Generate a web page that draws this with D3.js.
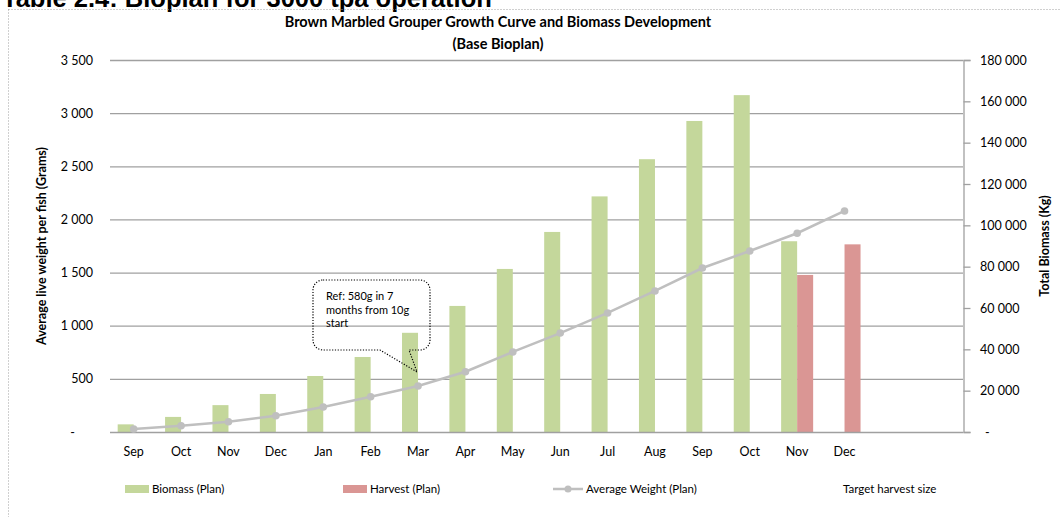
<!DOCTYPE html>
<html>
<head>
<meta charset="utf-8">
<script src="https://cdn.jsdelivr.net/npm/d3@7"></script>
<style>
  html, body { margin: 0; padding: 0; background: #fff; }
  svg { display: block; font-family: Lato, "Open Sans", sans-serif; }
</style>
</head>
<body>
<svg id="chart" width="1060" height="517"></svg>
<script>
// Month slots along the x axis (two trailing empty slots)
const months = ["Sep","Oct","Nov","Dec","Jan","Feb","Mar","Apr","May","Jun","Jul","Aug","Sep","Oct","Nov","Dec","",""];
// Standing biomass (kg), right axis
const biomass = [3700,7300,13000,18400,27100,36300,48000,61000,78900,96800,114000,132000,150500,163000,92300,0,null,null];
// Harvested biomass (kg), right axis
const harvest = [null,null,null,null,null,null,null,null,null,null,null,null,null,null,76000,90800,null,null];
// Average live weight per fish (g), left axis
const avgWeight = [28,59,97,153,235,332,433,567,753,931,1120,1327,1543,1703,1870,2080,null,null];

const leftTicks = [0,500,1000,1500,2000,2500,3000,3500];
const rightTicks = [0,20000,40000,60000,80000,100000,120000,140000,160000,180000];

const svg = d3.select("#chart");
const W = 1060, H = 517;
const plot = { left: 110, right: 963, top: 60, bottom: 432 };

const fmt = v => v === 0 ? "-" : d3.format(",")(v).replace(/,/g, " ");

// sheet heading, sitting above the chart frame
svg.append("text")
  .attr("x", 2).attr("y", 7)
  .attr("font-family", "'Liberation Sans', Arial, sans-serif")
  .attr("font-weight", "bold").attr("font-size", 25.5)
  .attr("fill", "#000")
  .text("Table 2.4: Bioplan for 3000 tpa operation");

// dotted chart frame
svg.append("rect")
  .attr("x", 8.5).attr("y", 9.5).attr("width", W).attr("height", H)
  .attr("fill", "none").attr("stroke", "#a0a0a0")
  .attr("stroke-width", 1).attr("stroke-dasharray", "1,2");

const idx = months.map((m, i) => i);
const x = d3.scaleBand().domain(idx).range([plot.left, plot.right]).padding(0);
const xSub = d3.scaleBand().domain(["biomass","harvest"]).range([0, x.bandwidth()])
  .paddingInner(0).paddingOuter(0.48);
const yL = d3.scaleLinear().domain([0, 3500]).range([plot.bottom, plot.top]);
const yR = d3.scaleLinear().domain([0, 180000]).range([plot.bottom, plot.top]);

// horizontal gridlines on the left-axis ticks
svg.append("g").selectAll("line").data(leftTicks.filter(t => t > 0)).join("line")
  .attr("x1", plot.left).attr("x2", plot.right)
  .attr("y1", d => yL(d) + 0.5).attr("y2", d => yL(d) + 0.5)
  .attr("stroke", "#a0a0a0").attr("stroke-width", 1.3);

// left tick labels
svg.append("g").selectAll("text").data(leftTicks).join("text")
  .attr("x", d => d === 0 ? 75 : 93)
  .attr("y", d => yL(d) + 4.5)
  .attr("text-anchor", "end")
  .attr("font-size", 12.5).attr("fill", "#000")
  .text(fmt);

// bars
const bars = svg.append("g");
bars.selectAll("rect.bio").data(idx.filter(i => biomass[i] != null && biomass[i] > 0)).join("rect")
  .attr("class", "bio")
  .attr("x", i => x(i) + xSub("biomass"))
  .attr("width", xSub.bandwidth())
  .attr("y", i => yR(biomass[i]))
  .attr("height", i => yR(0) - yR(biomass[i]))
  .attr("fill", "#c4d79b");
bars.selectAll("rect.har").data(idx.filter(i => harvest[i] != null)).join("rect")
  .attr("class", "har")
  .attr("x", i => x(i) + xSub("harvest"))
  .attr("width", xSub.bandwidth())
  .attr("y", i => yR(harvest[i]))
  .attr("height", i => yR(0) - yR(harvest[i]))
  .attr("fill", "#da9694");

// bottom axis line
svg.append("line")
  .attr("x1", plot.left).attr("x2", plot.right)
  .attr("y1", plot.bottom + 0.5).attr("y2", plot.bottom + 0.5)
  .attr("stroke", "#a0a0a0").attr("stroke-width", 1.3);

// right axis with outward ticks
const rightAxis = d3.axisRight(yR).tickValues(rightTicks).tickSize(7).tickFormat("");
const gR = svg.append("g").attr("transform", `translate(${plot.right + 0.5},0)`).call(rightAxis);
gR.select(".domain").attr("stroke", "#a0a0a0").attr("stroke-width", 1.3);
gR.selectAll(".tick line").attr("stroke", "#a0a0a0").attr("stroke-width", 1.3);
svg.append("g").selectAll("text").data(rightTicks).join("text")
  .attr("x", d => d === 0 ? 985 : 980)
  .attr("y", d => yR(d) + 4.5)
  .attr("text-anchor", "start")
  .attr("font-size", 12.5).attr("fill", "#000")
  .text(fmt);

// month labels
svg.append("g").selectAll("text").data(idx).join("text")
  .attr("x", i => x(i) + x.bandwidth() / 2)
  .attr("y", 456)
  .attr("text-anchor", "middle")
  .attr("font-size", 12.5).attr("fill", "#000")
  .text(i => months[i]);

// average weight line
const wIdx = idx.filter(i => avgWeight[i] != null);
const line = d3.line().x(i => x(i) + x.bandwidth() / 2).y(i => yL(avgWeight[i]));
svg.append("path").datum(wIdx)
  .attr("d", line).attr("fill", "none")
  .attr("stroke", "#bfbfbf").attr("stroke-width", 2.5);
svg.append("g").selectAll("circle").data(wIdx).join("circle")
  .attr("cx", i => x(i) + x.bandwidth() / 2)
  .attr("cy", i => yL(avgWeight[i]))
  .attr("r", 3.8).attr("fill", "#bfbfbf");

// callout
const callout = svg.append("g");
const cb = { x0: 313, y0: 280, x1: 430, y1: 350, r: 10 };
const tip = { x: x(6) + x.bandwidth() / 2 - 1, y: yL(avgWeight[6]) - 14 };
const p = d3.path();
p.moveTo(cb.x0 + cb.r, cb.y0);
p.lineTo(cb.x1 - cb.r, cb.y0);
p.arcTo(cb.x1, cb.y0, cb.x1, cb.y0 + cb.r, cb.r);
p.lineTo(cb.x1, cb.y1 - cb.r);
p.arcTo(cb.x1, cb.y1, cb.x1 - cb.r, cb.y1, cb.r);
p.lineTo(409, cb.y1);
p.lineTo(tip.x, tip.y);
p.lineTo(380, cb.y1);
p.lineTo(cb.x0 + cb.r, cb.y1);
p.arcTo(cb.x0, cb.y1, cb.x0, cb.y1 - cb.r, cb.r);
p.lineTo(cb.x0, cb.y0 + cb.r);
p.arcTo(cb.x0, cb.y0, cb.x0 + cb.r, cb.y0, cb.r);
p.closePath();
callout.append("path").attr("d", p.toString())
  .attr("fill", "none").attr("stroke", "#000")
  .attr("stroke-width", 1.2).attr("stroke-dasharray", "1.2,1.6");
const calloutLines = ["Ref: 580g in 7", "months from 10g", "start"];
callout.selectAll("text").data(calloutLines).join("text")
  .attr("x", 326).attr("y", (d, i) => 300 + i * 13.5)
  .attr("font-size", 11).attr("fill", "#000")
  .text(d => d);

// titles
const title = svg.append("g").attr("font-weight", "bold").attr("font-size", 14.5)
  .attr("text-anchor", "middle").attr("fill", "#000");
title.append("text").attr("x", 498).attr("y", 27)
  .text("Brown Marbled Grouper Growth Curve and Biomass Development");
title.append("text").attr("x", 498).attr("y", 49).text("(Base Bioplan)");

svg.append("text")
  .attr("transform", `translate(46,${(plot.top + plot.bottom) / 2}) rotate(-90)`)
  .attr("text-anchor", "middle").attr("font-weight", "bold").attr("font-size", 12.5)
  .text("Average live weight per fish (Grams)");
svg.append("text")
  .attr("transform", `translate(1049,${(plot.top + plot.bottom) / 2}) rotate(-90)`)
  .attr("text-anchor", "middle").attr("font-weight", "bold").attr("font-size", 12.5)
  .text("Total Biomass (Kg)");

// legend
const lg = svg.append("g").attr("font-size", 11.5).attr("fill", "#000");
lg.append("rect").attr("x", 125).attr("y", 485).attr("width", 24).attr("height", 8).attr("fill", "#c4d79b");
lg.append("text").attr("x", 152).attr("y", 493).text("Biomass (Plan)");
lg.append("rect").attr("x", 343).attr("y", 485).attr("width", 24).attr("height", 8).attr("fill", "#da9694");
lg.append("text").attr("x", 370).attr("y", 493).text("Harvest (Plan)");
lg.append("line").attr("x1", 553).attr("x2", 583).attr("y1", 489).attr("y2", 489)
  .attr("stroke", "#bfbfbf").attr("stroke-width", 2.5);
lg.append("circle").attr("cx", 568).attr("cy", 489).attr("r", 3.5).attr("fill", "#bfbfbf");
lg.append("text").attr("x", 586).attr("y", 493).text("Average Weight (Plan)");
lg.append("text").attr("x", 843).attr("y", 493).text("Target harvest size");
</script>
</body>
</html>
